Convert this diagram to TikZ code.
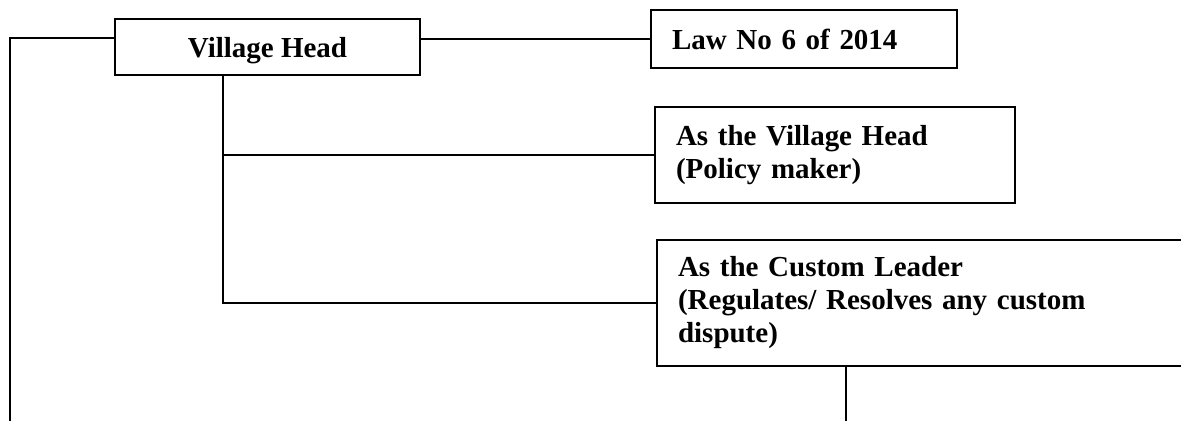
\documentclass[tikz,border=0pt]{standalone}
\usepackage{fontspec}
\setmainfont{Liberation Serif}
\usetikzlibrary{positioning}

\tikzset{
  box/.style={draw,rectangle,line width=1pt,inner xsep=0.42cm,inner ysep=0pt,
    font=\bfseries\fontsize{16.5}{18.8}\selectfont},
  link/.style={line width=1pt}
}

\begin{document}
\begin{tikzpicture}[x=0.02cm,y=-0.02cm]
      \useasboundingbox (0,0) rectangle (1181,421);
      \clip (0,0) rectangle (1181,421);
      \node[box,minimum width=6.1cm,minimum height=1.12cm,text depth=0pt] (head) at (267.5,47) {Village Head};
      \node[box,text width=5.28cm,align=left,minimum height=1.16cm] (law) at (804,39) {Law No 6 of 2014};
      \node[box,text width=6.36cm,align=left,minimum height=1.92cm] (policy) at (835,155) {As the Village Head\\(Policy maker)};
      \node[box,text width=10.02cm,align=left,minimum height=2.52cm] (custom) at (928.5,303) {As the Custom Leader\\(Regulates/ Resolves any custom\\dispute)};
      \coordinate (spine) at (223,303);
      \coordinate (edge) at (10,421);
      \coordinate (drop) at (846,421);
      \draw[link] ([yshift=0.18cm]head.west) -- ([yshift=0.18cm]head.west -| edge) -- (edge);
      \draw[link] (law.west) -- (law.west -| head.east);
      \draw[link] (head.south -| spine) -- (spine) -- (custom.west);
      \draw[link] (policy.west) -- (policy.west -| spine);
      \draw[link] (custom.south -| drop) -- (drop);
    \end{tikzpicture}
\end{document}
